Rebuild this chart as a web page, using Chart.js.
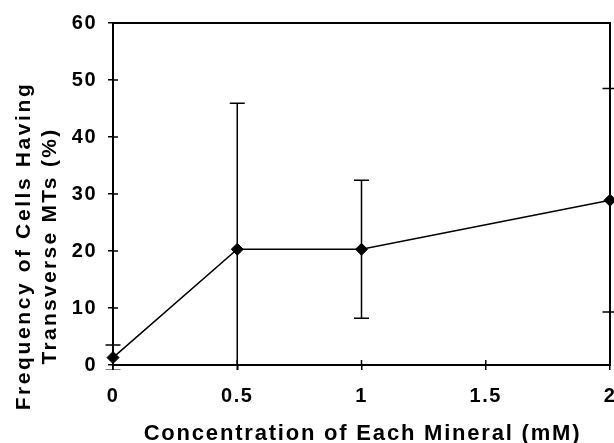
<!DOCTYPE html>
<html>
<head>
<meta charset="utf-8">
<script src="https://cdn.jsdelivr.net/npm/chart.js@4.4.1/dist/chart.umd.min.js"></script>
<style>
html,body{margin:0;padding:0;background:#fff;overflow:hidden;}
#wrap{width:614px;height:443px;overflow:hidden;position:relative;}
canvas{display:block;}
</style>
</head>
<body>
<div id="wrap"><canvas id="c" width="640" height="443"></canvas></div>
<script>
// Data
const concentrations = [0, 0.5, 1, 2];
const frequencies = [1.3, 20.3, 20.3, 28.9];
const errors = [2.2, 25.6, 12.1, 19.6];
const yTitleLines = ['Frequency of Cells Having', 'Transverse MTs (%)'];
const xTitle = 'Concentration of Each Mineral (mM)';

const FONT = "'Liberation Sans', Arial, sans-serif";

const deco = {
  id: 'deco',
  beforeLayout(chart) { chart.ctx.letterSpacing = '1.5px'; },
  beforeDraw(chart) { chart.ctx.letterSpacing = '1.5px'; },
  beforeDatasetsDraw(chart) {
    const ctx = chart.ctx, xs = chart.scales.x, ys = chart.scales.y, a = chart.chartArea;
    ctx.save();
    ctx.beginPath();
    ctx.rect(a.left - 20, a.top, a.right - a.left + 60, a.bottom - a.top + 5);
    ctx.clip();
    ctx.strokeStyle = '#000';
    ctx.lineWidth = 1.5;
    const cap = 7.5;
    concentrations.forEach((c, i) => {
      const x = xs.getPixelForValue(c);
      const yt = ys.getPixelForValue(frequencies[i] + errors[i]);
      const yb = ys.getPixelForValue(frequencies[i] - errors[i]);
      ctx.beginPath();
      ctx.moveTo(x, yt); ctx.lineTo(x, yb);
      ctx.moveTo(x - cap, yt); ctx.lineTo(x + cap, yt);
      ctx.moveTo(x - cap, yb); ctx.lineTo(x + cap, yb);
      ctx.stroke();
    });
    ctx.restore();
  },
  afterDraw(chart) {
    const ctx = chart.ctx, xs = chart.scales.x, ys = chart.scales.y, a = chart.chartArea;
    ctx.save();
    ctx.strokeStyle = '#000';
    ctx.lineWidth = 1.5;
    ctx.beginPath();
    ys.ticks.forEach(t => {
      const y = ys.getPixelForValue(t.value);
      ctx.moveTo(a.left, y); ctx.lineTo(a.left + 5, y);
    });
    xs.ticks.forEach(t => {
      const x = xs.getPixelForValue(t.value);
      ctx.moveTo(x, a.bottom); ctx.lineTo(x, a.bottom - 5);
    });
    ctx.stroke();
    ctx.lineWidth = 2;
    ctx.strokeRect(a.left, a.top, a.right - a.left, a.bottom - a.top);
    ctx.fillStyle = '#000';
    ctx.font = 'bold 22px ' + FONT;
    ctx.letterSpacing = '1.8px';
    ctx.textAlign = 'center';
    ctx.textBaseline = 'alphabetic';
    ctx.fillText(xTitle, (a.left + a.right) / 2 + 1, 440);
    ctx.save();
    ctx.translate(0, 246);
    ctx.rotate(-Math.PI / 2);
    ctx.font = 'bold 21px ' + FONT;
    ctx.letterSpacing = '2.6px';
    ctx.fillText(yTitleLines[0], 0, 30);
    ctx.letterSpacing = '2.3px';
    ctx.fillText(yTitleLines[1], 0, 56);
    ctx.restore();
    ctx.restore();
  }
};

new Chart(document.getElementById('c'), {
  type: 'scatter',
  data: {
    datasets: [{
      data: concentrations.map((c, i) => ({ x: c, y: frequencies[i] })),
      showLine: true,
      borderColor: '#000',
      borderWidth: 1.5,
      backgroundColor: '#000',
      pointStyle: 'rectRot',
      pointRadius: 6,
      pointBorderWidth: 1,
      pointBackgroundColor: '#000',
      pointBorderColor: '#000',
      clip: false
    }]
  },
  options: {
    responsive: false,
    devicePixelRatio: 1,
    animation: false,
    layout: { padding: { left: 0, top: 23, right: 30, bottom: 0 } },
    plugins: { legend: { display: false }, tooltip: { enabled: false } },
    scales: {
      x: {
        type: 'linear', min: 0, max: 2,
        ticks: { stepSize: 0.5, color: '#000', padding: 14, maxRotation: 0,
                 callback: v => String(v),
                 font: { family: FONT, size: 20, weight: 'bold' } },
        grid: { drawOnChartArea: false, tickLength: 5, color: '#000', lineWidth: 1.5 },
        border: { display: false },
        afterFit(s) { s.height = 78; }
      },
      y: {
        type: 'linear', min: 0, max: 60,
        ticks: { stepSize: 10, color: '#000', padding: 11,
                 callback: v => String(v),
                 font: { family: FONT, size: 20, weight: 'bold' } },
        grid: { drawOnChartArea: false, tickLength: 5, color: '#000', lineWidth: 1.5 },
        border: { display: false },
        afterFit(s) { s.width = 113; }
      }
    }
  },
  plugins: [deco]
});
</script>
</body>
</html>
